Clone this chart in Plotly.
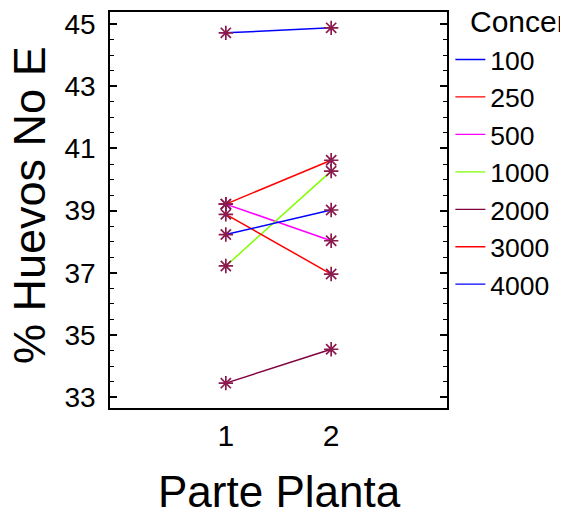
import plotly.graph_objects as go

parts = [1, 2]
concentrations = ["100", "250", "500", "1000", "2000", "3000", "4000"]
v100 = [44.72, 44.88]
v250 = [39.21, 40.62]
v500 = [39.21, 38.03]
v1000 = [37.22, 40.27]
v2000 = [33.45, 34.54]
v3000 = [38.88, 36.96]
v4000 = [38.23, 39.02]
series = [v100, v250, v500, v1000, v2000, v3000, v4000]
colors = ["#0000FF", "#FF0000", "#FF00FF", "#80FF00", "#800040", "#FF0000", "#0000FF"]
y_ticks = [33, 35, 37, 39, 41, 43, 45]
legend_title = "Concentración"

FONT = "Liberation Sans, Arial, sans-serif"
fig = go.Figure()
for name, vals, col in zip(concentrations, series, colors):
    fig.add_trace(go.Scatter(
        x=parts, y=vals, mode="lines+markers", name=name,
        line=dict(color=col, width=1.5),
        marker=dict(symbol="asterisk-open", size=12,
                    line=dict(color="#8B1A4E", width=1.7), color="#8B1A4E"),
        showlegend=False,
    ))
    fig.add_trace(go.Scatter(
        x=[None], y=[None], mode="lines", name=name,
        line=dict(color=col, width=1.3), showlegend=True,
    ))

fig.update_layout(
    width=560, height=503,
    margin=dict(l=102, r=121, t=4, b=103, autoexpand=False),
    paper_bgcolor="white", plot_bgcolor="white",
    font=dict(family=FONT, color="black"),
    legend=dict(
        x=1.01, y=0.94, xanchor="left", yanchor="top",
        font=dict(size=26.5), itemwidth=30, tracegroupgap=0,
        bgcolor="rgba(0,0,0,0)", maxheight=480,
    ),
    xaxis=dict(
        range=[-0.1, 3.1], tickvals=parts, ticktext=[str(p) for p in parts],
        showline=True, linecolor="black", linewidth=1.5, mirror=True,
        ticks="", showgrid=False, zeroline=False,
        tickfont=dict(size=30), ticklabelstandoff=0,
    ),
    yaxis=dict(
        range=[32.65, 45.39], tickvals=y_ticks,
        showline=True, linecolor="black", linewidth=1.5, mirror="ticks",
        ticks="inside", ticklen=7, tickwidth=1.5, tickcolor="black",
        minor=dict(dtick=0.5, ticks="inside", ticklen=4, tickwidth=1.2, tickcolor="black"),
        showgrid=False, zeroline=False,
        tickfont=dict(size=28), ticklabelstandoff=7,
    ),
    annotations=[
        dict(text="% Huevos No E", xref="paper", yref="paper", x=-0.237, y=0.513,
             textangle=-90, showarrow=False, font=dict(size=45),
             xanchor="center", yanchor="middle"),
        dict(text="Parte Planta", xref="paper", yref="paper", x=0.504, y=-0.212,
             showarrow=False, font=dict(size=44), xanchor="center", yanchor="middle"),
        dict(text=legend_title, xref="paper", yref="paper", x=1.062, y=0.975,
             showarrow=False, font=dict(size=30), xanchor="left", yanchor="middle"),
    ],
)
fig.write_html("out.html")
